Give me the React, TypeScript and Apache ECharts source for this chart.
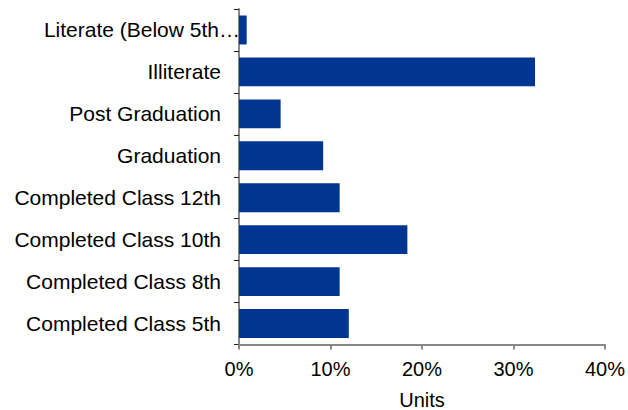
import React, { useEffect, useRef } from "react";
import * as echarts from "echarts";

const categories = [
  "Completed Class 5th",
  "Completed Class 8th",
  "Completed Class 10th",
  "Completed Class 12th",
  "Graduation",
  "Post Graduation",
  "Illiterate",
  "Literate (Below 5th Class)",
];
const values = [12.0, 11.0, 18.4, 11.0, 9.2, 4.55, 32.35, 0.84];
const xTicks = [0, 10, 20, 30, 40];
const xName = "Units";

export default function App() {
  const ref = useRef<HTMLDivElement>(null);
  useEffect(() => {
    const chart = echarts.init(ref.current!, null, { renderer: "svg" });
    const font = "Liberation Sans, Arial, sans-serif";
    chart.setOption({
      animation: false,
      grid: { left: 239, right: 23, top: 9, bottom: 65.5, containLabel: false, outerBoundsMode: "none" },
      xAxis: {
        type: "value",
        min: xTicks[0],
        max: xTicks[xTicks.length - 1],
        interval: 10,
        name: xName,
        nameLocation: "middle",
        nameGap: 45,
        nameTextStyle: { color: "#000", fontSize: 20, fontFamily: font },
        axisLine: { show: true, lineStyle: { color: "#888", width: 2 } },
        axisTick: { show: true, length: 5, lineStyle: { color: "#888", width: 2 } },
        axisLabel: {
          color: "#000",
          fontSize: 20,
          fontFamily: font,
          margin: 14,
          formatter: (v: number) => `${v}%`,
        },
        splitLine: { show: false },
      },
      yAxis: {
        type: "category",
        data: categories.map((c) =>
          c.length > 20 ? { value: c, textStyle: { padding: [0, -19, 0, 0] } } : c
        ),
        axisLine: { show: true, lineStyle: { color: "#888", width: 2 } },
        axisTick: { show: true, length: 5, lineStyle: { color: "#222", width: 1 } },
        axisLabel: {
          color: "#000",
          fontSize: 21,
          fontFamily: font,
          margin: 18,
          formatter: (s: string) => (s.length > 20 ? s.slice(0, 19) + "\u2026" : s),
        },
        splitLine: { show: false },
      },
      series: [
        {
          type: "bar",
          data: values,
          barCategoryGap: "31%",
          itemStyle: { color: "#003591" },
        },
      ],
    });
    return () => chart.dispose();
  }, []);
  return (
    <div
      ref={ref}
      style={{ position: "absolute", left: 0, top: 0, width: 628, height: 410 }}
    />
  );
}
